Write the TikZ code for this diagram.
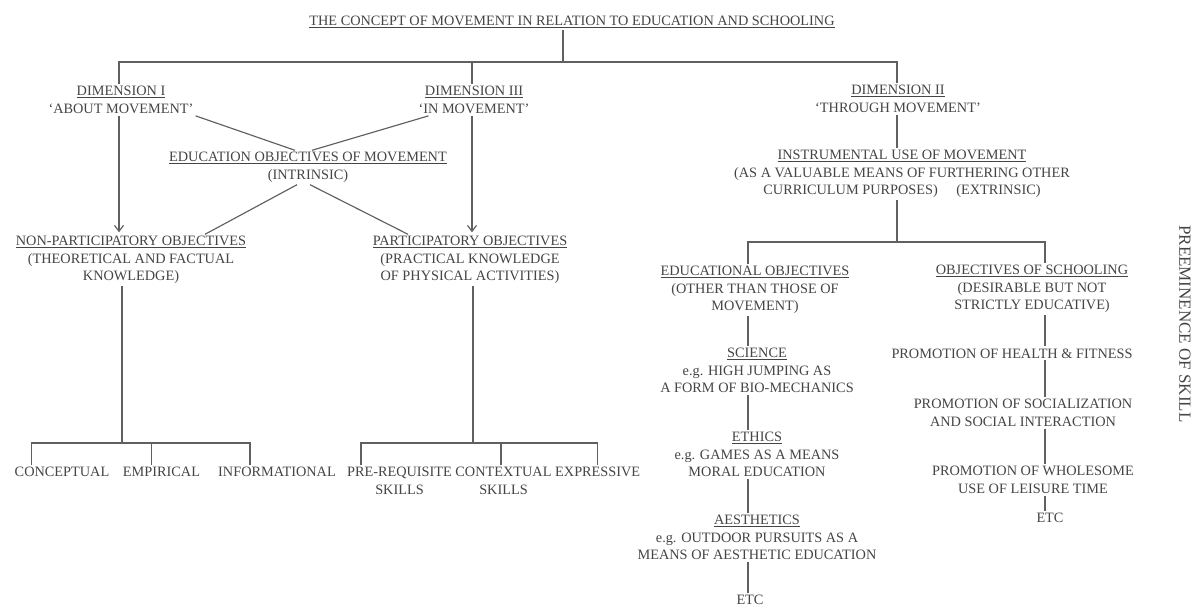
\documentclass[tikz,border=0pt]{standalone}
\usepackage{fontspec}
\setmainfont{Liberation Serif}
\usetikzlibrary{arrows.meta}
\definecolor{txt}{HTML}{454545}
\definecolor{ln}{HTML}{606060}
\newcommand\fsz{\fontsize{14.3}{17.5}\selectfont}
\begin{document}
\begin{tikzpicture}[x=1pt,y=-1pt,
  lab/.style={align=center, inner sep=2pt, anchor=north, text=txt, font=\fsz},
  conn/.style={draw=ln, line width=1.15pt},
  arr/.style={conn, -{Straight Barb[length=6pt,width=9pt]}, shorten >=2pt}]
\useasboundingbox (0,0) rectangle (1199,608);
\fill[white] (0,0) rectangle (1199,608);

% nodes
\node[lab] (title) at (572,14.3) {\underline{THE CONCEPT OF MOVEMENT IN RELATION TO EDUCATION AND SCHOOLING}};
\node[lab] (dimI) at (121,84.3) {\underline{DIMENSION I}\\`ABOUT MOVEMENT'};
\node[lab] (dimIII) at (474,84.3) {\underline{DIMENSION III}\\`IN MOVEMENT'};
\node[lab] (dimII) at (898,83.3) {\underline{DIMENSION II}\\`THROUGH MOVEMENT'};
\node[lab] (eduobj) at (308,150.3) {\underline{EDUCATION OBJECTIVES OF MOVEMENT}\\(INTRINSIC)};
\node[lab] (nonpart) at (131,234.3) {\underline{NON-PARTICIPATORY OBJECTIVES}\\(THEORETICAL AND FACTUAL\\KNOWLEDGE)};
\node[lab] (part) at (470,234.3) {\underline{PARTICIPATORY OBJECTIVES}\\(PRACTICAL KNOWLEDGE\\OF PHYSICAL ACTIVITIES)};
\node[lab] (instr) at (902,148.3) {\underline{INSTRUMENTAL USE OF MOVEMENT}\\(AS A VALUABLE MEANS OF FURTHERING OTHER\\CURRICULUM PURPOSES)\hspace{1.3em}(EXTRINSIC)};
\node[lab] (edu) at (755,264.3) {\underline{EDUCATIONAL OBJECTIVES}\\(OTHER THAN THOSE OF\\MOVEMENT)};
\node[lab] (school) at (1032,263.3) {\underline{OBJECTIVES OF SCHOOLING}\\(DESIRABLE BUT NOT\\STRICTLY EDUCATIVE)};
\node[lab] (science) at (757,346.3) {\underline{SCIENCE}\\e.g. HIGH JUMPING AS\\A FORM OF BIO-MECHANICS};
\node[lab] (ethics) at (757,430.3) {\underline{ETHICS}\\e.g. GAMES AS A MEANS\\MORAL EDUCATION};
\node[lab] (aesth) at (757,513.3) {\underline{AESTHETICS}\\e.g. OUTDOOR PURSUITS AS A\\MEANS OF AESTHETIC EDUCATION};
\node[lab] (etcL) at (750,593.3) {ETC};
\node[lab] (health) at (1012,346.3) {PROMOTION OF HEALTH \& FITNESS};
\node[lab] (social) at (1023,397.3) {PROMOTION OF SOCIALIZATION\\AND SOCIAL INTERACTION};
\node[lab] (whole) at (1033,464.3) {PROMOTION OF WHOLESOME\\USE OF LEISURE TIME};
\node[lab] (etcR) at (1050,511.3) {ETC};
\node[lab] (concept) at (62,465.3) {CONCEPTUAL};
\node[lab] (empir) at (161.5,465.3) {EMPIRICAL};
\node[lab] (inform) at (277,465.3) {INFORMATIONAL};
\node[lab] (prereq) at (399.5,465.3) {PRE-REQUISITE\\SKILLS};
\node[lab] (context) at (503.5,465.3) {CONTEXTUAL\\SKILLS};
\node[lab] (express) at (597.7,465.3) {EXPRESSIVE};
\node[text=txt, font=\fontsize{17}{20}\selectfont, rotate=-90, inner sep=0pt] (pre) at (1185,324) {PREEMINENCE OF SKILL};

% bus coordinates
\coordinate (busT) at (563,62);
\coordinate (busL) at (119,62);
\coordinate (busM) at (472,62);
\coordinate (busR) at (897,62);
\coordinate (nb) at (122,443);
\coordinate (nbL) at (31.6,443);
\coordinate (nbM) at (151.5,443);
\coordinate (nbR) at (250,443);
\coordinate (pb) at (473,443);
\coordinate (pbL) at (361,443);
\coordinate (pbM) at (501,443);
\coordinate (pbR) at (597.6,443);
\coordinate (ib) at (897,242);
\coordinate (ibL) at (748,242);
\coordinate (ibR) at (1045,242);

% top tree
\draw[conn] (busT |- title.south) -- (busT);
\draw[conn] (busL |- dimI.north) -- (busL) -- (busR) -- (busR |- dimII.north);
\draw[conn] (busM) -- (busM |- dimIII.north);

% arrows
\draw[arr] (dimI.south -| busL) -- (nonpart.north -| busL);
\draw[arr] (dimIII.south -| busM) -- (part.north -| busM);

% diagonals
\draw[conn] (dimI.south east) -- ([xshift=-13pt]eduobj.north);
\draw[conn] ([xshift=12pt]dimIII.south west) -- ([xshift=4pt]eduobj.north);
\draw[conn] ([xshift=-11pt]eduobj.south) -- ([xshift=74pt]nonpart.north);
\draw[conn] ([xshift=2pt]eduobj.south) -- ([xshift=-62pt]part.north);

% non-participatory tree
\draw[conn] (nonpart.south -| nb) -- (nb);
\draw[conn] (nbL |- concept.north) -- (nbL) -- (nbR) -- (nbR |- inform.north);
\draw[conn] (nbM) -- (nbM |- empir.north);

% participatory tree
\draw[conn] (part.south -| pb) -- (pb);
\draw[conn] (pbL |- prereq.north) -- (pbL) -- (pbR) -- (pbR |- express.north);
\draw[conn] (pbM) -- (pbM |- context.north);

% dimension II
\draw[conn] (dimII.south -| ib) -- (instr.north -| ib);
\draw[conn] (instr.south -| ib) -- (ib);
\draw[conn] (ibL |- edu.north) -- (ibL) -- (ibR) -- (ibR |- school.north);

% left column
\draw[conn] (edu.south -| ibL) -- (science.north -| ibL);
\draw[conn] (science.south -| ibL) -- (ethics.north -| ibL);
\draw[conn] (ethics.south -| ibL) -- (aesth.north -| ibL);
\draw[conn] (aesth.south -| ibL) -- (etcL.north -| ibL);

% right column
\draw[conn] (school.south -| ibR) -- (health.north -| ibR);
\draw[conn] (health.south -| ibR) -- (social.north -| ibR);
\draw[conn] (social.south -| ibR) -- (whole.north -| ibR);
\draw[conn] (whole.south -| ibR) -- (etcR.north -| ibR);
\end{tikzpicture}
\end{document}
